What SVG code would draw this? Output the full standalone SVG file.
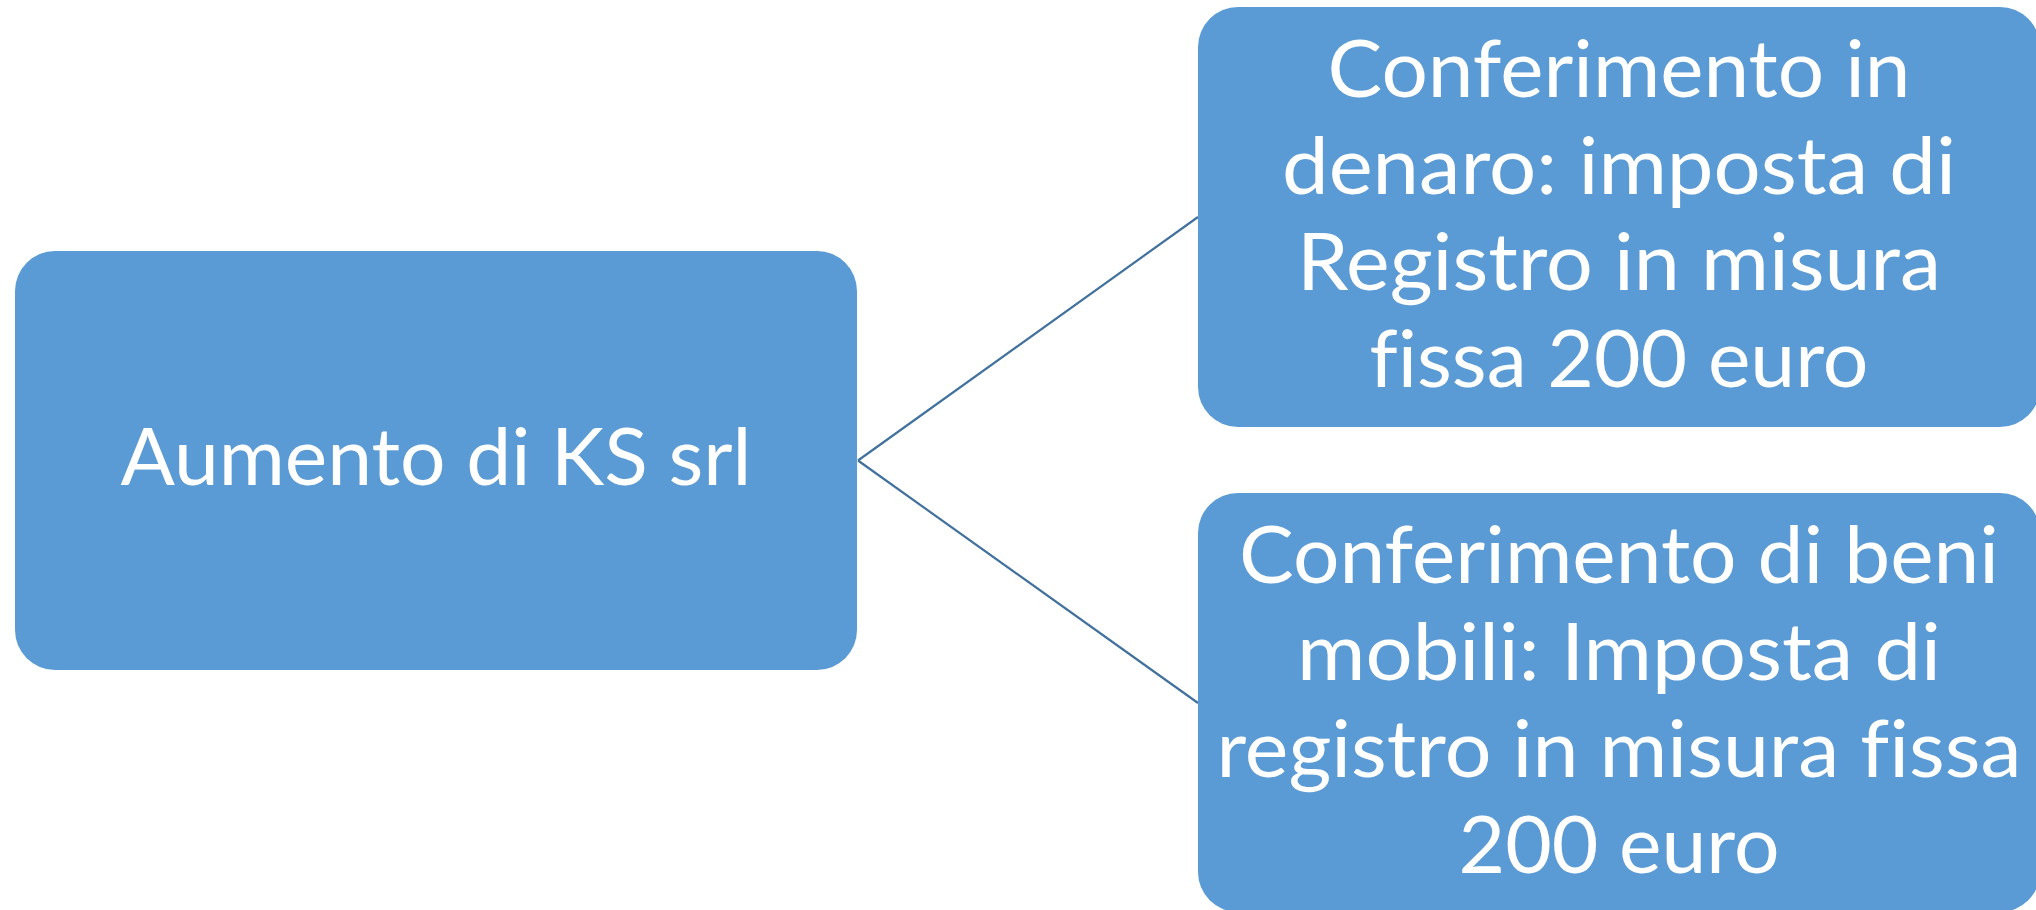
<svg xmlns="http://www.w3.org/2000/svg" width="2036" height="910" viewBox="0 0 2036 910">
  <style>
    .box { fill: #5B9BD5; }
    .link { stroke: #41719C; stroke-width: 2.2; fill: none; }
    .label { fill: #FFFFFF; font-family: "Lato", "Open Sans", "Liberation Sans", sans-serif; font-size: 80px; text-anchor: middle; font-variant-ligatures: none; font-feature-settings: "liga" 0; }
  </style>
  <rect width="2036" height="910" fill="#FFFFFF"/>

  <!-- connectors from the root node to the two branches -->
  <g id="connectors">
    <line class="link" x1="858" y1="460.5" x2="1198" y2="217"/>
    <line class="link" x1="858" y1="460.5" x2="1198" y2="703"/>
  </g>

  <!-- root node -->
  <g id="node-aumento">
    <rect class="box" x="15" y="251" width="842" height="419" rx="40" ry="40"/>
    <text class="label" x="436" y="485" textLength="631" lengthAdjust="spacingAndGlyphs">Aumento di KS srl</text>
  </g>

  <!-- branch: cash contribution -->
  <g id="node-denaro">
    <rect class="box" x="1198" y="7" width="842" height="420" rx="40" ry="40"/>
    <text class="label" x="1619" y="97" textLength="583" lengthAdjust="spacingAndGlyphs">Conferimento in</text>
    <text class="label" x="1619" y="193.5" textLength="674" lengthAdjust="spacingAndGlyphs">denaro: imposta di</text>
    <text class="label" x="1619" y="290" textLength="644" lengthAdjust="spacingAndGlyphs">Registro in misura</text>
    <text class="label" x="1619" y="386.5" textLength="499" lengthAdjust="spacingAndGlyphs">fissa 200 euro</text>
  </g>

  <!-- branch: movable goods contribution -->
  <g id="node-beni-mobili">
    <rect class="box" x="1198" y="493" width="842" height="419" rx="40" ry="40"/>
    <text class="label" x="1619" y="583" textLength="760" lengthAdjust="spacingAndGlyphs">Conferimento di beni</text>
    <text class="label" x="1619" y="680" textLength="644" lengthAdjust="spacingAndGlyphs">mobili: Imposta di</text>
    <text class="label" x="1619" y="777" textLength="805" lengthAdjust="spacingAndGlyphs">registro in misura fissa</text>
    <text class="label" x="1619" y="873" textLength="321" lengthAdjust="spacingAndGlyphs">200 euro</text>
  </g>
</svg>
